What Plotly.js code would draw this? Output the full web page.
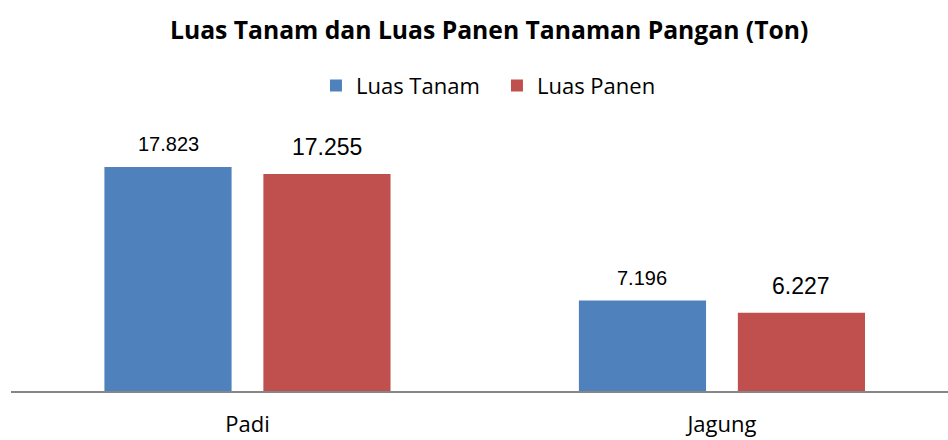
<!DOCTYPE html>
<html>
<head>
<meta charset="utf-8">
<script src="https://cdn.plot.ly/plotly-3.0.1.min.js"></script>
<style>html,body{margin:0;padding:0;background:#fff;}#chart{width:948px;height:440px;}</style>
</head>
<body>
<div id="chart"></div>
<script>
const categories = ['Padi', 'Jagung'];
const seriesNames = ['Luas Tanam', 'Luas Panen'];
const luasTanam = [17823, 7196];
const luasPanen = [17255, 6227];
const chartTitle = 'Luas Tanam dan Luas Panen Tanaman Pangan (Ton)';

function fmt(v) { return String(v).replace(/\B(?=(\d{3})+(?!\d))/g, '.'); }

const colors = ['#4F81BD', '#C0504D'];
const bargap = 0.33, bargroupgap = 0.2;
const slot = (1 - bargap) / 2;
const offsets = [-slot / 2, slot / 2];
const labelFonts = [
  {family: 'Liberation Sans, Arial, sans-serif', size: 20, color: '#000'},
  {family: 'Liberation Sans, Arial, sans-serif', size: 23, color: '#000'}
];
const labelShift = [23, 27];
const textFont = 'Open Sans, sans-serif';

const series = [luasTanam, luasPanen];
const traces = series.map((vals, i) => ({
  type: 'bar', name: seriesNames[i], x: categories, y: vals,
  marker: {color: colors[i]}, hoverinfo: 'skip'
}));

const annotations = [];
series.forEach((vals, i) => {
  vals.forEach((v, j) => {
    annotations.push({
      xref: 'x', yref: 'y', x: j + offsets[i], y: v,
      text: fmt(v), showarrow: false, yanchor: 'middle', xanchor: 'center',
      yshift: labelShift[i], font: labelFonts[i]
    });
  });
});

const layout = {
  width: 948, height: 440,
  margin: {l: 11, r: 0, t: 130, b: 49, pad: 0},
  paper_bgcolor: '#fff', plot_bgcolor: '#fff',
  barmode: 'group', bargap: bargap, bargroupgap: bargroupgap,
  title: {text: '<b>' + chartTitle + '</b>', font: {family: textFont, size: 24.7, color: '#000'},
          xref: 'container', x: 0.516, xanchor: 'center', yref: 'container', y: 0.932, yanchor: 'middle'},
  showlegend: true,
  legend: {orientation: 'h', xref: 'container', yref: 'container', x: 0.3333, xanchor: 'left', y: 0.805, yanchor: 'middle',
           font: {family: textFont, size: 22, color: '#000'}, traceorder: 'normal', itemwidth: 30,
           entrywidth: 136, entrywidthmode: 'pixels'},
  xaxis: {type: 'category', range: [-0.4984, 1.4764], showline: true, linecolor: '#868686', linewidth: 2,
          ticks: '', showgrid: false, zeroline: false, ticklabelstandoff: 13,
          tickfont: {family: textFont, size: 22, color: '#000'}, fixedrange: true},
  yaxis: {range: [0, 20764], visible: false, showgrid: false, zeroline: false, fixedrange: true},
  annotations: annotations
};

Plotly.newPlot('chart', traces, layout, {displayModeBar: false, staticPlot: true});
</script>
</body>
</html>
